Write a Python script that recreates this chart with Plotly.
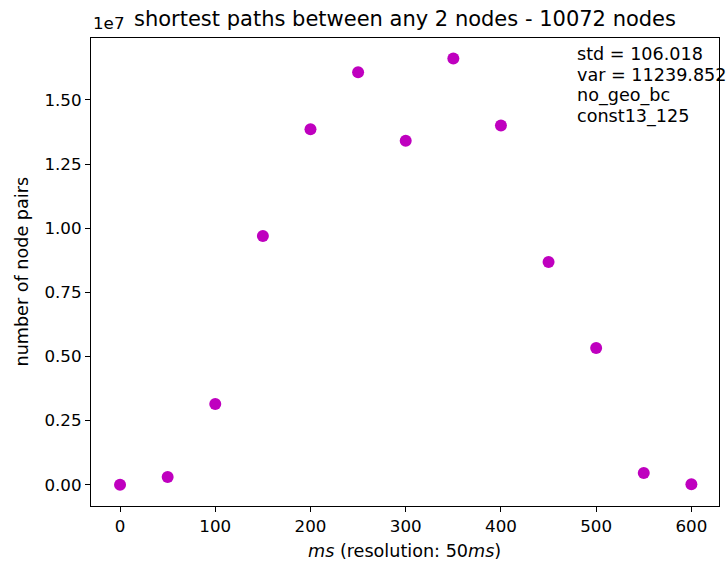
import plotly.graph_objects as go

ms = [0, 50, 100, 150, 200, 250, 300, 350, 400, 450, 500, 550, 600]
pairs = [0.0, 0.30e6, 3.15e6, 9.70e6, 13.86e6, 16.08e6, 13.41e6, 16.62e6,
         14.00e6, 8.68e6, 5.33e6, 0.456e6, 0.02e6]
y_ticks = [0, 0.25e7, 0.5e7, 0.75e7, 1.0e7, 1.25e7, 1.5e7]
y_tick_labels = ["0.00", "0.25", "0.50", "0.75", "1.00", "1.25", "1.50"]
x_ticks = [0, 100, 200, 300, 400, 500, 600]
info_lines = ["std = 106.018", "var = 11239.852", "no_geo_bc", "const13_125"]

FONT = "DejaVu Sans"
W, H = 727, 566
L, R, T, B = 91, 8, 38, 60
TICK_SIZE = 16.7
LABEL_SIZE = 17.6

fig = go.Figure()
fig.add_trace(go.Scatter(x=ms, y=pairs, mode="markers",
                         marker=dict(color="#bf00bf", size=12, line=dict(width=0)),
                         showlegend=False))

axis_common = dict(showline=True, linecolor="black", linewidth=1.2, mirror=True,
                   ticks="outside", ticklen=5, tickwidth=1.2, tickcolor="black",
                   showgrid=False, zeroline=False, automargin=False,
                   tickfont=dict(family=FONT, size=TICK_SIZE, color="black"))

fig.update_layout(
    width=W, height=H,
    margin=dict(l=L, r=R, t=T, b=B),
    plot_bgcolor="white", paper_bgcolor="white",
    font=dict(family=FONT, size=16, color="black"),
    title=dict(text="shortest paths between any 2 nodes - 10072 nodes",
               x=(91 + 719) / 2 / W, xanchor="center", y=1 - 19 / H, yanchor="middle",
               font=dict(family=FONT, size=21, color="black")),
    xaxis=dict(range=[-30.5, 629], tickvals=x_ticks, **axis_common),
    yaxis=dict(range=[-0.83e6, 17.415e6], tickvals=y_ticks, ticktext=y_tick_labels,
               **axis_common),
)

plot_h = H - T - B
plot_w = W - L - R

def py(pix):
    """paper y for a pixel row"""
    return 1 - (pix - T) / plot_h

# axis titles
fig.add_annotation(text="<i>ms</i> (resolution: 50<i>ms</i>)", xref="paper", yref="paper",
                   x=(404 - L) / plot_w, y=py(551), xanchor="center", yanchor="middle",
                   showarrow=False, font=dict(family=FONT, size=LABEL_SIZE, color="black"))
fig.add_annotation(text="number of node pairs", xref="paper", yref="paper",
                   x=-(L - 21) / plot_w, y=py(271.5), xanchor="center", yanchor="middle",
                   textangle=-90, showarrow=False,
                   font=dict(family=FONT, size=LABEL_SIZE, color="black"))

fig.add_annotation(text="1e7", xref="paper", yref="paper", x=0, y=1,
                   xanchor="left", yanchor="bottom", yshift=3, showarrow=False,
                   font=dict(family=FONT, size=TICK_SIZE, color="black"))

for i, line in enumerate(info_lines):
    fig.add_annotation(text=line, xref="x", yref="paper",
                       x=479.5, y=py(53.5 + 21.1 * i), xanchor="left", yanchor="middle",
                       align="left", showarrow=False, xshift=-2,
                       font=dict(family=FONT, size=LABEL_SIZE, color="black"))

fig.write_html("out.html", config={"displayModeBar": False},
               post_script="document.body.style.margin='0';")
